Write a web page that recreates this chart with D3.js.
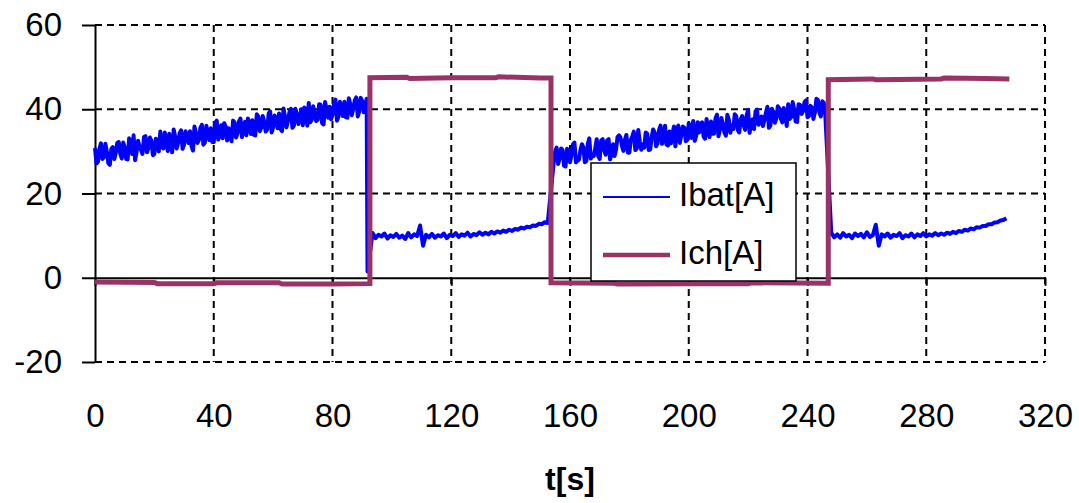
<!DOCTYPE html>
<html>
<head>
<meta charset="utf-8">
<script src="https://cdn.jsdelivr.net/npm/d3@7"></script>
<style>
  html, body { margin: 0; padding: 0; background: #fff; }
  svg { display: block; font-family: "Liberation Sans", Arial, sans-serif; }
</style>
</head>
<body>
<svg id="chart" width="1079" height="503"></svg>
<script>
// ---- data ----
const xTicks = [0, 40, 80, 120, 160, 200, 240, 280, 320];
const yTicks = [-20, 0, 20, 40, 60];

// Ibat[A] segments: start time [s], step 1 s; "Mid" arrays are the samples half a second later
const ibatSeg1Start = 0;
const ibatSeg1 = [30.8,27.6,31.9,28.6,29.9,26.8,31.0,29.6,32.2,28.3,31.0,28.1,32.1,33.8,29.8,31.2,29.4,33.6,30.8,32.5,
  29.4,32.3,34.7,30.7,32.0,34.2,29.8,33.5,32.0,35.0,31.6,33.4,34.8,30.2,34.3,32.7,36.3,32.1,34.1,35.5,
  32.2,37.3,34.0,33.1,35.9,35.5,32.4,36.9,34.3,37.8,35.2,33.8,36.8,37.4,33.8,38.3,35.6,36.9,35.2,39.5,
  35.7,37.3,39.0,34.8,38.2,37.3,40.1,36.1,39.0,37.5,36.2,39.9,41.5,37.5,39.1,37.5,41.1,36.4,39.9,40.6,
  38.7,42.3,38.2,40.0,41.8,38.0,41.2,40.1,42.8,39.5,42.0,40.3];
const ibatSeg1Mid = [27.1,30.6,28.2,31.8,27.2,30.6,28.2,32.0,29.5,32.1,28.2,33.1,29.4,27.9,32.5,30.3,33.4,29.8,33.3,29.1,
  33.0,30.0,31.1,34.5,30.1,31.4,35.2,30.7,34.3,30.6,34.8,32.0,31.3,35.9,32.0,35.6,31.6,36.1,32.7,32.2,
  36.8,32.8,36.2,36.7,32.6,33.6,37.3,33.3,37.1,33.4,37.0,37.8,34.1,33.9,38.8,34.8,38.4,34.7,39.0,34.5,
  38.5,35.5,35.3,40.2,35.7,39.3,35.6,40.1,36.5,40.0,40.4,36.1,36.9,40.7,37.2,41.2,36.7,41.7,38.0,37.6,
  41.4,37.3,41.8,38.4,38.1,42.6,38.6,42.1,38.3,42.7,39.3,42.5];
const ibatTransientT = [91.8];
const ibatTransientV = [1.5];
const ibatSeg2Start = 93.5;
const ibatSeg2 = [10.6,9.4,10.2,9.8,10.5,9.3,10.1,9.7,10.4,9.5,10.0,9.2,10.6,9.6,10.3,9.9,12.4,7.6,10.2,9.6,
  10.4,9.5,10.1,9.8,10.5,9.4,10.2,9.9,10.6,9.7,10.3,10.0,10.7,9.8,10.4,10.1,10.8,10.2,10.7,10.3,
  10.9,10.5,11.0,10.7,11.2,10.9,11.4,11.1,11.6,11.4,11.9,11.7,12.1,12.0,12.4,12.3,12.8,12.7,13.2,13.0];
const ibatSeg3Start = 154.5;
const ibatSeg3 = [27.3,30.9,28.3,30.3,26.4,30.0,29.2,32.1,27.8,30.2,31.0,27.7,33.1,29.3,30.7,28.9,32.6,30.3,32.6,28.1,
  31.7,30.3,33.8,31.3,32.8,29.7,32.8,34.7,30.7,32.4,31.7,34.5,30.3,33.3,34.5,31.9,36.1,32.8,31.6,34.7,
  34.0,31.2,36.1,33.9,35.6,32.7,35.3,37.2,33.7,34.5,36.9,33.0,35.4,37.1,34.2,38.7,35.2,36.5,33.7,37.5,
  36.2,38.8,35.1,37.6,36.1,38.5,34.4,37.6,39.5,36.3,38.3,37.5,40.6,36.1,39.4,37.8,40.2,36.9,39.0,41.2,
  38.1,40.1,37.0,41.0,39.5,42.1,38.4,40.4,39.3,42.2,38.3,41.5];
const ibatSeg3Mid = [30.0,27.0,30.7,26.6,30.6,27.4,31.7,27.4,28.0,31.7,27.4,31.8,28.3,28.9,32.9,28.2,32.9,29.2,32.9,29.4,
  28.9,33.4,33.3,30.1,33.9,29.7,33.6,30.3,35.1,30.4,30.9,34.2,30.4,35.2,31.2,35.1,31.8,36.1,31.4,31.9,
  35.9,35.3,32.0,35.9,32.4,36.7,33.2,32.5,36.9,36.6,33.5,37.7,33.4,34.2,37.8,33.6,37.9,34.5,38.7,34.4,
  35.3,38.4,34.5,38.4,35.1,39.9,36.3,35.3,39.9,36.8,36.0,39.2,35.6,40.1,36.8,40.7,37.8,40.3,36.0,37.7,
  41.7,37.1,41.2,38.9,41.7,38.1,40.8,37.7,42.5,39.2,41.9,38.6];
const ibatSeg4Start = 248;
const ibatSeg4 = [10.7,9.6,10.3,9.5,10.6,9.8,10.2,9.4,10.5,9.9,10.4,9.6,10.8,9.7,10.1,12.6,7.6,10.3,9.8,10.5,
  9.5,10.2,9.9,10.6,9.4,10.1,9.8,10.5,9.6,10.3,9.9,10.6,9.8,10.3,10.0,10.6,10.1,10.5,10.2,10.7,
  10.4,10.9,10.6,11.1,10.9,11.4,11.2,11.7,11.5,12.0,11.9,12.3,12.3,12.7,12.7,13.1,13.2,13.6,13.7,14.1];

// Ich[A]
const ichTime  = [0, 20, 21, 40, 41, 62, 63, 80, 92.6, 92.6, 105, 106, 120, 135, 136, 150, 153.6, 153.6, 175, 176, 200, 220, 221, 247, 247, 262, 263, 285, 286, 300, 308];
const ichValue = [-1.0, -1.1, -1.4, -1.4, -1.2, -1.2, -1.5, -1.5, -1.4, 47.5, 47.6, 47.3, 47.5, 47.5, 47.7, 47.4, 47.4, -1.2, -1.3, -1.5, -1.4, -1.4, -1.2, -1.3, 47.0, 47.2, 47.0, 47.2, 47.4, 47.3, 47.2];

const seriesNames = ["Ibat[A]", "Ich[A]"];
const seriesColors = ["#0000ff", "#993366"];

// ---- drawing ----
const svg = d3.select("#chart");
const x = d3.scaleLinear().domain([0, 320]).range([95, 1045]);
const y = d3.scaleLinear().domain([-20, 60]).range([362, 25]);
const fmt = d => String(d);

// gridlines
const grid = svg.append("g");
grid.selectAll("line.vg").data(xTicks.filter(d => d !== 0)).join("line")
  .attr("x1", d => x(d)).attr("x2", d => x(d))
  .attr("y1", y(60)).attr("y2", y(-20))
  .attr("stroke", "#000").attr("stroke-width", 2).attr("stroke-dasharray", "7,5");
grid.selectAll("line.hg").data(yTicks.filter(d => d !== 0)).join("line")
  .attr("x1", x(0)).attr("x2", x(320))
  .attr("y1", d => y(d)).attr("y2", d => y(d))
  .attr("stroke", "#000").attr("stroke-width", 2).attr("stroke-dasharray", "7,5");

// y axis
const yAxis = svg.append("g").attr("transform", `translate(${x(0)},0)`)
  .call(d3.axisLeft(y).tickValues(yTicks).tickSize(13).tickSizeOuter(0).tickPadding(20).tickFormat(fmt));
yAxis.select(".domain").attr("stroke", "#000").attr("stroke-width", 2);
yAxis.selectAll(".tick line").attr("stroke", "#000").attr("stroke-width", 2);
yAxis.selectAll(".tick text").attr("font-size", 33).attr("fill", "#000")
  .attr("font-family", "'Liberation Sans', Arial, sans-serif");

// x axis line at zero with ticks below
const xZero = svg.append("g").attr("transform", `translate(0,${y(0)})`)
  .call(d3.axisBottom(x).tickValues(xTicks).tickSize(8).tickSizeOuter(0).tickFormat(""));
xZero.select(".domain").attr("stroke", "#000").attr("stroke-width", 2);
xZero.selectAll(".tick line").attr("stroke", "#000").attr("stroke-width", 2);

// x tick labels at the bottom
const xLab = svg.append("g").attr("transform", `translate(0,${y(-20)})`)
  .call(d3.axisBottom(x).tickValues(xTicks).tickSize(0).tickPadding(42).tickFormat(fmt));
xLab.select(".domain").remove();
xLab.selectAll(".tick text").attr("font-size", 33).attr("fill", "#000")
  .attr("font-family", "'Liberation Sans', Arial, sans-serif");

// x title
svg.append("text").attr("x", x(160)).attr("y", 490).attr("text-anchor", "middle")
  .attr("font-size", 32).attr("font-weight", "bold").attr("fill", "#000").text("t[s]");

// Ibat points
const ibatPts = [];
ibatSeg1.forEach((v, i) => { ibatPts.push([ibatSeg1Start + i, v]); ibatPts.push([ibatSeg1Start + i + 0.5, ibatSeg1Mid[i]]); });
ibatTransientT.forEach((t, i) => ibatPts.push([t, ibatTransientV[i]]));
ibatSeg2.forEach((v, i) => ibatPts.push([ibatSeg2Start + i, v]));
ibatSeg3.forEach((v, i) => { ibatPts.push([ibatSeg3Start + i, v]); ibatPts.push([ibatSeg3Start + i + 0.5, ibatSeg3Mid[i]]); });
ibatSeg4.forEach((v, i) => ibatPts.push([ibatSeg4Start + i, v]));

const line = d3.line().x(d => x(d[0])).y(d => y(d[1]));
svg.append("path").datum(ibatPts).attr("d", line)
  .attr("fill", "none").attr("stroke", seriesColors[0]).attr("stroke-width", 4).attr("stroke-linejoin", "round");

const ichPts = ichTime.map((t, i) => [t, ichValue[i]]);
svg.append("path").datum(ichPts).attr("d", line)
  .attr("fill", "none").attr("stroke", seriesColors[1]).attr("stroke-width", 5).attr("stroke-linejoin", "miter");

// legend
const lg = svg.append("g");
lg.append("rect").attr("x", 591).attr("y", 163).attr("width", 205).attr("height", 118)
  .attr("fill", "#fff").attr("stroke", "#000").attr("stroke-width", 1.5);
const lgRows = [197, 255];
seriesNames.forEach((name, i) => {
  lg.append("line").attr("x1", 603).attr("x2", 670).attr("y1", lgRows[i]).attr("y2", lgRows[i])
    .attr("stroke", seriesColors[i]).attr("stroke-width", i === 0 ? 2 : 4.5);
  lg.append("text").attr("x", 679).attr("y", lgRows[i] + 9).attr("font-size", 33)
    .attr("fill", "#000").text(name);
});
</script>
</body>
</html>
